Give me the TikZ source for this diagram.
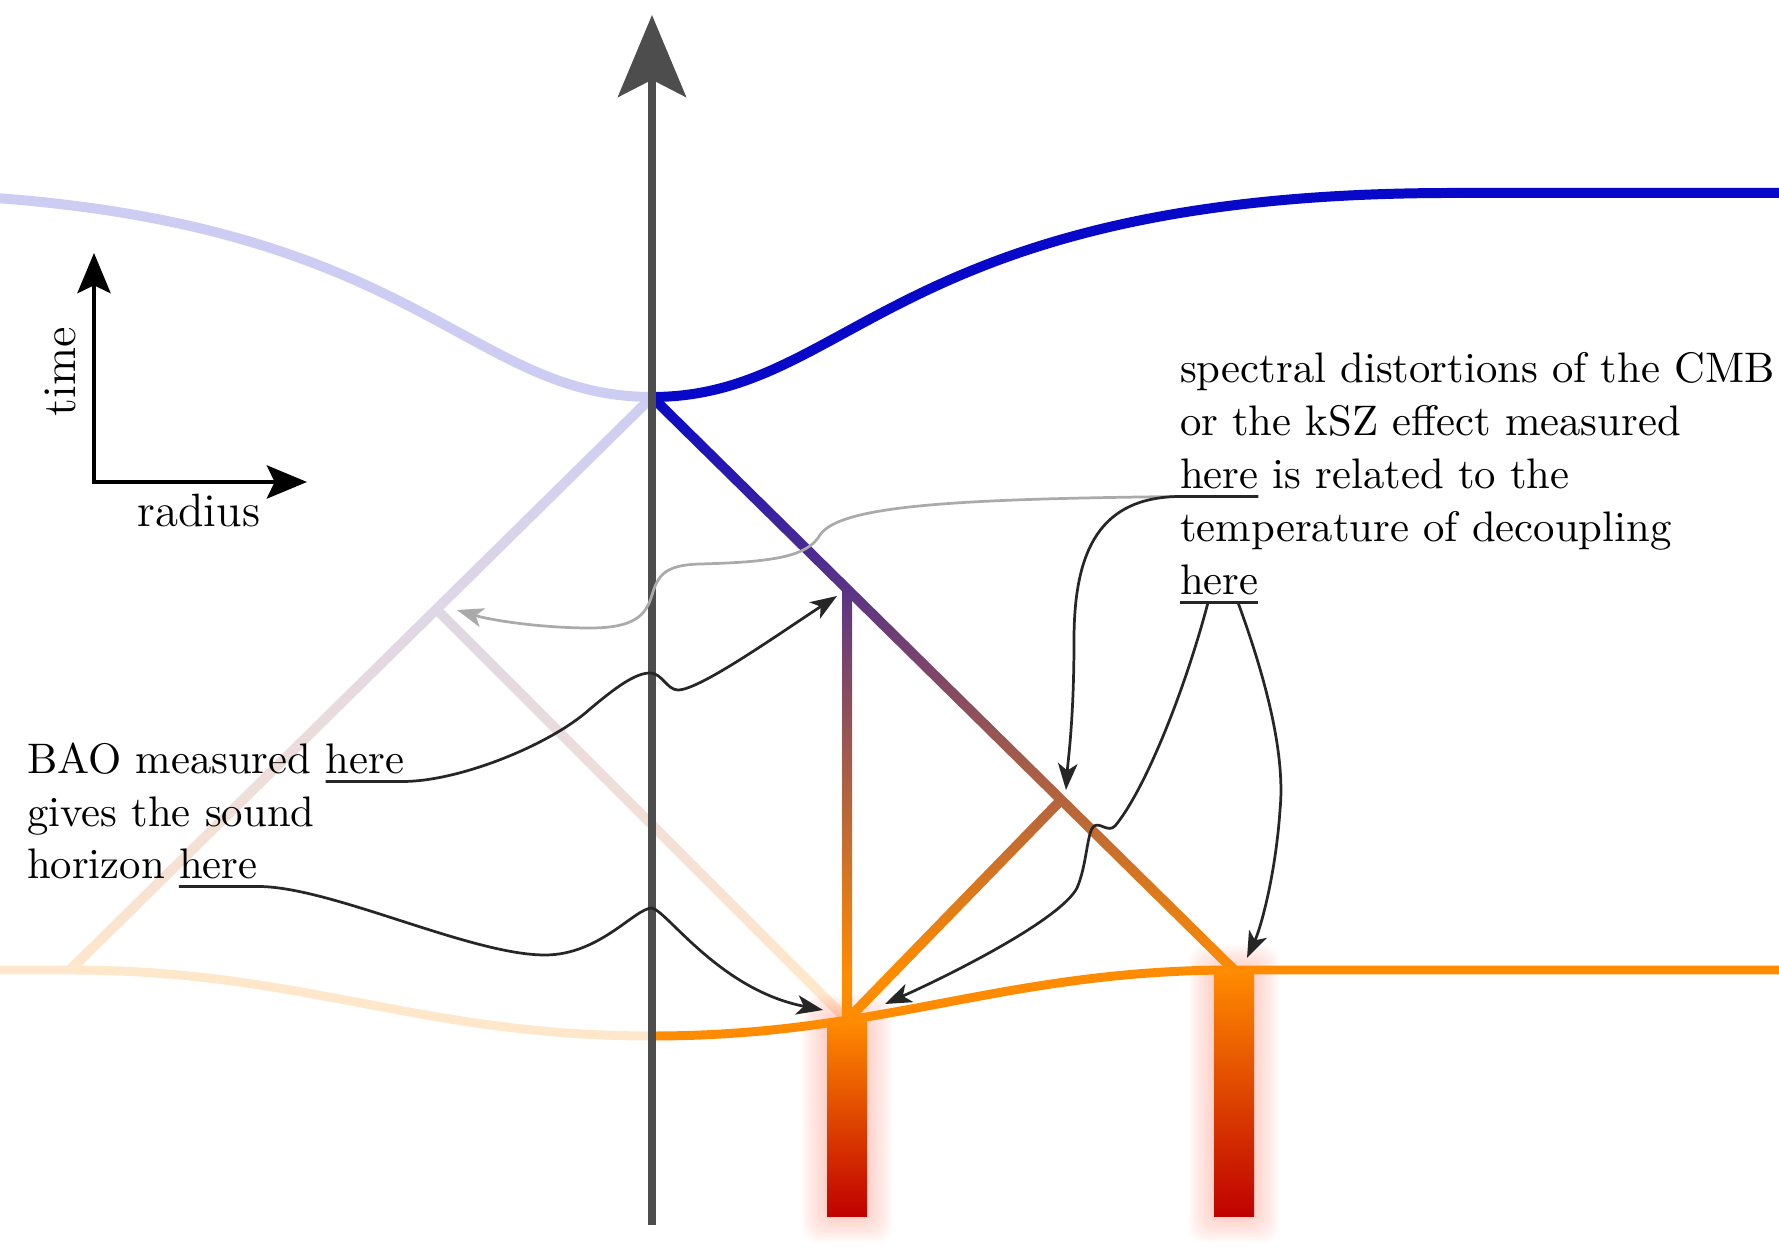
\documentclass[tikz,border=0pt]{standalone}
\usetikzlibrary{arrows.meta,calc}
\definecolor{cblue}{RGB}{8,8,200}
\definecolor{corange}{RGB}{255,140,0}
\definecolor{cred}{RGB}{191,0,0}
\definecolor{fblue}{RGB}{205,205,244}
\definecolor{forange}{RGB}{255,231,204}
\definecolor{caxis}{RGB}{77,77,77}
\definecolor{cconn}{RGB}{38,38,38}
\definecolor{cgray}{RGB}{170,170,170}
\definecolor{cglow}{RGB}{255,90,60}
\newcommand\mygradfill{%
  \shade[top color=cblue,bottom color=corange] (0,397) rectangle (1779,975);
  \fill[corange] (0,974) rectangle (1779,1040);
  \fill[cblue] (0,380) rectangle (1779,398);}
\newcommand\myfadefill{%
  \shade[top color=fblue,bottom color=forange] (0,397) rectangle (1779,975);
  \fill[forange] (0,974) rectangle (1779,1040);
  \fill[fblue] (0,380) rectangle (1779,398);}
\tikzset{
  lbl/.style={inner sep=0pt, outer sep=0pt, anchor=base west, font=\fontsize{10.95}{13.6}\selectfont},
  axlbl/.style={inner sep=0pt, outer sep=0pt, anchor=base, font=\fontsize{12}{14}\selectfont},
  conn/.style={draw=cconn, line width=0.7pt, -{Stealth[length=6.8pt,width=5pt,inset=1.8pt]}},
  gconn/.style={draw=cgray, line width=0.7pt, -{Stealth[length=6.8pt,width=5pt,inset=1.8pt]}},
  uline/.style={draw=cconn, line width=0.7pt},
  axisline/.style={draw=caxis, line width=2.05pt, -{Stealth[length=21pt,width=17.4pt,inset=4.4pt]}},
  smallax/.style={draw=black, line width=1.03pt, {Stealth[length=10.3pt,width=8.5pt,inset=2pt]}-{Stealth[length=10.3pt,width=8.5pt,inset=2pt]}},
  bluecurve/.style={draw=cblue, line width=2.56pt},
  orangecurve/.style={draw=corange, line width=2.3pt},
}
\begin{document}
\begin{tikzpicture}[x=0.2564pt,y=-0.2564pt]
\useasboundingbox (0,0) rectangle (1779,1248);
% key points
\coordinate (apex) at (652,397);
\coordinate (jV) at (847,589);
\coordinate (jB) at (847,1020);
\coordinate (jR) at (1061,800);
\coordinate (jE) at (1234,970);
\coordinate (jL) at (437,609);
\coordinate (jF) at (70,970);
\coordinate (obot) at (652,1036);
% faded curves
\draw[draw=fblue, line width=2.56pt] (apex) .. controls (452,397) and (412,193) .. (-148,193);
\draw[draw=forange, line width=2.3pt] (obot) .. controls (419,1036) and (303,970) .. (jF) -- (0,970);
% faded diagonals
\begin{scope}
  \clip (655.5,400.6) -- (73.5,973.6) -- (66.5,966.4) -- (648.5,393.4) -- cycle;
  \myfadefill
\end{scope}
\begin{scope}
  \clip (437.5,603.5) -- (850.5,1016.5) -- (843.5,1023.5) -- (430.5,610.5) -- cycle;
  \myfadefill
\end{scope}
% glow around the bars
\foreach \k in {1,...,16} {
  \fill[cglow, opacity=0.02, rounded corners=4pt] ({827-1.6*\k},{1020-1.6*\k}) rectangle ({867+1.6*\k},{1217+1.6*\k});
  \fill[cglow, opacity=0.02, rounded corners=4pt] ({1214-1.6*\k},{970-1.6*\k}) rectangle ({1254+1.6*\k},{1217+1.6*\k});
}
% bars
\shade[top color=corange, bottom color=cred] (827,1020) rectangle (867,1217);
\shade[top color=corange, bottom color=cred] (1214,970) rectangle (1254,1217);
% bright gradient lines
\begin{scope}
  \clip (655.5,393.4) -- (1237.5,966.4) -- (1230.5,973.6) -- (648.5,400.6) -- cycle;
  \mygradfill
\end{scope}
\begin{scope}
  \clip (842,590) -- (852,590) -- (852,1022) -- (842,1022) -- cycle;
  \mygradfill
\end{scope}
\begin{scope}
  \clip (850.6,1023.5) -- (1066.6,801.5) -- (1059.4,794.5) -- (843.4,1016.5) -- cycle;
  \mygradfill
\end{scope}
% bright curves
\draw[orangecurve] (obot) .. controls (885,1036) and (1001,970) .. (jE) -- (1779,970);
\draw[bluecurve] (apex) .. controls (852,397) and (892,193) .. (1452,193) -- (1779,193);
% main axis
\coordinate (axbot) at (652,1225);
\coordinate (axtop) at (652,15);
\draw[axisline] (axbot) -- (axtop);
% small axes
\coordinate (tt) at (94,253);
\coordinate (rr) at (307,482);
\draw[smallax] (tt) |- (rr);
\node[axlbl, rotate=90] (tlab) at (75,372) {time};
\node[axlbl] (rlab) at (199,527) {radius};
% left text
\node[lbl] (bao) at (27,774) {BAO measured\kern\fontdimen2\font};
\node[lbl] (here1) at (bao.base east) {here};
\node[lbl] (gives) at (27,826.5) {gives the sound};
\node[lbl] (hor) at (27,879) {horizon\kern\fontdimen2\font};
\node[lbl] (here2) at (hor.base east) {here};
% right text
\node[lbl] (r1) at (1180,383) {spectral distortions of the CMB};
\node[lbl] (r2) at (1180,436) {or the kSZ effect measured};
\node[lbl] (here3) at (1180,489) {here};
\node[lbl] (r3) at (here3.base east) {\kern\fontdimen2\font is related to the};
\node[lbl] (r4) at (1180,542) {temperature of decoupling};
\node[lbl] (here5) at (1180,595) {here};
% arrow targets
\coordinate (tBAO) at (837,596);
\coordinate (tHor) at (823,1010);
\coordinate (tGray) at (457,610);
\coordinate (tR) at (1066,790);
\coordinate (tB1) at (885,1004);
\coordinate (tE) at (1247,958);
% connectors
\draw[conn] ($(here1.base west)+(0,7.5)$) -- ($(here1.base east)+(0,7.5)$)
  .. controls (460,781) and (550,745) .. (590,709)
  .. controls (615,688) and (635,673) .. (650,673)
  .. controls (662,673) and (667,690) .. (678,690)
  .. controls (700,690) and (780,633) .. (tBAO);
\draw[conn] ($(here2.base west)+(0,7.5)$) -- ($(here2.base east)+(0,7.5)$)
  .. controls (330,886) and (470,955) .. (545,955)
  .. controls (600,955) and (635,908) .. (652,908)
  .. controls (668,912) and (720,990) .. (tHor);
\draw[gconn] ($(here3.base west)+(0,7.5)$)
  .. controls (960,499) and (840,505) .. (820,535)
  .. controls (808,555) and (780,562) .. (700,564)
  .. controls (665,565) and (658,575) .. (652,595)
  .. controls (646,615) and (635,628) .. (590,628)
  .. controls (540,628) and (490,620) .. (tGray);
\draw[conn] ($(here3.base east)+(0,7.5)$) -- ($(here3.base west)+(0,7.5)$)
  .. controls (1100,497) and (1074,550) .. (1074,640)
  .. controls (1074,720) and (1068,760) .. (tR);
\draw[uline] ($(here5.base west)+(0,7.5)$) -- ($(here5.base east)+(0,7.5)$);
\draw[conn] ($(here5.base west)+(28,7.5)$)
  .. controls (1185,690) and (1145,790) .. (1115,826)
  .. controls (1108,833) and (1100,822) .. (1094,826)
  .. controls (1087,831) and (1087,865) .. (1077,888)
  .. controls (1060,920) and (950,975) .. (tB1);
\draw[conn] ($(here5.base west)+(58,7.5)$)
  .. controls (1270,690) and (1285,760) .. (1280,810)
  .. controls (1276,870) and (1262,925) .. (tE);
\end{tikzpicture}
\end{document}
